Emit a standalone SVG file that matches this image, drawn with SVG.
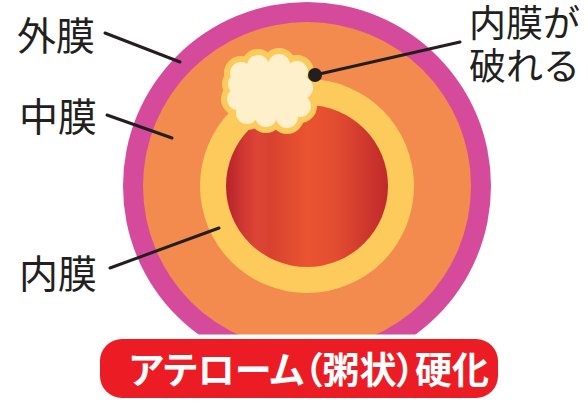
<svg xmlns="http://www.w3.org/2000/svg" width="588" height="405" viewBox="0 0 588 405">
  <style>
    .lbl { font-family: "Noto Sans CJK JP", "Noto Sans", sans-serif; font-size: 39px; fill: #231f20; }
    .lbl-r { font-family: "Noto Sans CJK JP", "Noto Sans", sans-serif; font-size: 37px; fill: #231f20; }
    .lead { stroke: #231f20; stroke-width: 3; stroke-linecap: round; fill: none; }
    .title { font-family: "Noto Sans CJK JP", "Noto Sans", sans-serif; font-size: 37px; font-weight: 700; fill: #ffffff; font-feature-settings: "palt"; }
  </style>
  <defs>
    <linearGradient id="lumen" x1="0" y1="0" x2="1" y2="0">
      <stop offset="0" stop-color="#b8222a"/>
      <stop offset="0.12" stop-color="#d23a33"/>
      <stop offset="0.2" stop-color="#dd4636"/>
      <stop offset="0.27" stop-color="#d8412f"/>
      <stop offset="0.5" stop-color="#ea5430"/>
      <stop offset="0.66" stop-color="#e44e30"/>
      <stop offset="1" stop-color="#c0292b"/>
    </linearGradient>
    <g id="bumps">
      <circle cx="270" cy="90" r="28"/>
      <circle cx="241" cy="73" r="11"/>
      <circle cx="258" cy="66" r="11"/>
      <circle cx="279" cy="65" r="11"/>
      <circle cx="297" cy="72" r="11"/>
      <circle cx="302" cy="88" r="11"/>
      <circle cx="300" cy="106" r="11"/>
      <circle cx="287" cy="117" r="11"/>
      <circle cx="266" cy="116" r="11"/>
      <circle cx="247" cy="113" r="11"/>
      <circle cx="238" cy="99" r="11"/>
      <circle cx="239" cy="84" r="11"/>
    </g>
  </defs>

  <!-- artery cross-section -->
  <g id="adventitia"><circle cx="307" cy="186" r="184" fill="#d64a9b"/></g>
  <g id="media"><circle cx="307" cy="186" r="164" fill="#f38a4e"/></g>
  <g id="intima"><circle cx="307" cy="186" r="107" fill="#fccb5b"/></g>
  <g id="lumen-area"><circle cx="307" cy="186" r="81" fill="url(#lumen)"/></g>
  <g id="plaque">
    <use href="#bumps" fill="#fccb5b" stroke="#fccb5b" stroke-width="12"/>
    <use href="#bumps" fill="#fdf0cb"/>
  </g>

  <!-- leader lines -->
  <g id="connectors">
    <line class="lead" x1="105" y1="33" x2="180" y2="62"/>
    <line class="lead" x1="107" y1="115" x2="172" y2="138"/>
    <line class="lead" x1="110" y1="268" x2="219" y2="228"/>
    <line class="lead" x1="315" y1="75" x2="460" y2="42"/>
    <circle cx="315" cy="75" r="7" fill="#231f20"/>
  </g>

  <g id="label-adventitia"><text class="lbl" x="17" y="50">外膜</text></g>
  <g id="label-media"><text class="lbl" x="19" y="131">中膜</text></g>
  <g id="label-intima"><text class="lbl" x="19" y="288">内膜</text></g>
  <g id="label-rupture">
    <text class="lbl-r" x="469" y="37">内膜が</text>
    <text class="lbl-r" x="469" y="80">破れる</text>
  </g>

  <!-- title banner -->
  <g id="banner">
    <rect x="100" y="339" width="398" height="59" rx="22" fill="#ec1c24" stroke="#ffffff" stroke-width="9"/>
    <rect x="100" y="339" width="398" height="59" rx="22" fill="#ec1c24"/>
    <text class="title" x="129" y="384">アテローム（粥状）硬化</text>
  </g>
</svg>
